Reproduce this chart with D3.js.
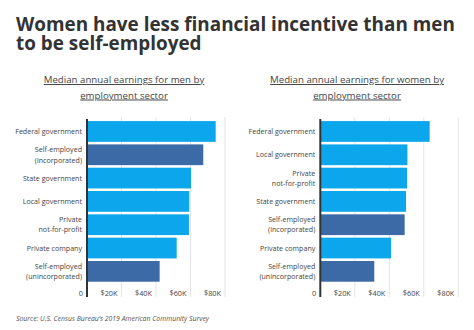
<!DOCTYPE html>
<html>
<head>
<meta charset="utf-8">
<script src="https://cdn.jsdelivr.net/npm/d3@7"></script>
<style>
  body { margin: 0; background: #fff; }
  svg { display: block; }
</style>
</head>
<body>
<svg width="474" height="330"></svg>
<script>
var svg = d3.select("svg"),
    width = 474,
    height = 330;

// the data
var menSectors = ["Federal government", "Self-employed\n(incorporated)", "State government",
                  "Local government", "Private\nnot-for-profit", "Private company",
                  "Self-employed\n(unincorporated)"];
var menValues = [74600, 67400, 60300, 59300, 59100, 52000, 42100];
var womenSectors = ["Federal government", "Local government", "Private\nnot-for-profit",
                    "State government", "Self-employed\n(incorporated)", "Private company",
                    "Self-employed\n(unincorporated)"];
var womenValues = [63400, 50500, 50300, 49700, 48900, 41000, 31300];
var tickValues = [0, 20000, 40000, 60000, 80000];
var tickLabels = ["0", "$20K", "$40K", "$60K", "$80K"];

var lightBlue = "#0ba6ec",
    darkBlue = "#3b6aa6",
    textColor = "#444";

//////////// TITLES ////////////
var titleLines = ["Women have less financial incentive than men", "to be self-employed"];
svg.append("g")
  .selectAll("text")
  .data(titleLines)
  .enter().append("text")
    .attr("x", 16)
    .attr("y", function(d, i) { return 30.7 + i * 19.4; })
    .attr("fill", "#333")
    .style("font-family", "'Open Sans', sans-serif")
    .style("font-weight", "bold")
    .style("font-size", "18.9px")
    .text(function(d) { return d; });

svg.append("text")
    .attr("x", 16)
    .attr("y", 321)
    .attr("fill", "#555")
    .style("font-family", "'Open Sans', sans-serif")
    .style("font-style", "italic")
    .style("font-size", "6.9px")
    .text("Source:  U.S. Census Bureau\u2019s 2019 American Community Survey");

//////////// PANELS ////////////
function drawPanel(opts) {
  var g = svg.append("g");

  var x = d3.scaleLinear()
      .domain([0, 80000])
      .range([opts.x0, opts.x0 + 138]);

  var y = d3.scaleBand()
      .domain(opts.sectors)
      .range([119.8, 283])
      .paddingInner(0.11)
      .paddingOuter(0.055);

  // subtitle
  var sub = g.append("text")
      .attr("x", opts.cx)
      .attr("y", 83)
      .attr("text-anchor", "middle")
      .attr("fill", textColor)
      .attr("text-decoration", "underline")
      .style("font-family", "'Open Sans', sans-serif")
      .style("font-size", "9.7px");
  opts.subtitle.forEach(function(line, i) {
    sub.append("tspan").attr("x", opts.cx).attr("dy", i ? 15.5 : 0).text(line);
  });

  // gridlines
  g.append("g")
    .selectAll("line")
    .data(tickValues.slice(1))
    .enter().append("line")
      .attr("x1", function(d) { return x(d); })
      .attr("x2", function(d) { return x(d); })
      .attr("y1", 117)
      .attr("y2", 297)
      .attr("stroke", "#e4e4e4")
      .attr("stroke-width", 1);

  // bars
  g.append("g")
    .selectAll("rect")
    .data(opts.values)
    .enter().append("rect")
      .attr("x", x(0))
      .attr("y", function(d, i) { return y(opts.sectors[i]); })
      .attr("width", function(d) { return x(d) - x(0); })
      .attr("height", y.bandwidth())
      .attr("fill", function(d, i) {
        return opts.sectors[i].indexOf("Self-employed") === 0 ? darkBlue : lightBlue;
      });

  // category labels
  var labels = g.append("g")
    .selectAll("text")
    .data(opts.sectors)
    .enter().append("text")
      .attr("text-anchor", "end")
      .attr("fill", textColor)
      .style("font-family", "'Open Sans', sans-serif")
      .style("font-size", "7.1px");
  labels.each(function(d) {
    var lines = d.split("\n");
    var cy = y(d) + y.bandwidth() / 2;
    var t = d3.select(this);
    lines.forEach(function(line, i) {
      t.append("tspan")
        .attr("x", x(0) - 5)
        .attr("y", cy + 2.6 + (i - (lines.length - 1) / 2) * 10.3)
        .text(line);
    });
  });

  // tick labels
  g.append("g")
    .selectAll("text")
    .data(tickValues)
    .enter().append("text")
      .attr("x", function(d) { return x(d) - 4; })
      .attr("y", 296)
      .attr("text-anchor", "end")
      .attr("fill", textColor)
      .style("font-family", "'Open Sans', sans-serif")
      .style("font-size", "7.3px")
      .text(function(d, i) { return tickLabels[i]; });

  // axis line
  g.append("line")
    .attr("x1", x(0))
    .attr("x2", x(0))
    .attr("y1", 119)
    .attr("y2", 297)
    .attr("stroke", "#333")
    .attr("stroke-width", 2);
}

drawPanel({
  x0: 87,
  cx: 124,
  subtitle: ["Median annual earnings for men by", "employment sector"],
  sectors: menSectors,
  values: menValues
});

drawPanel({
  x0: 320.3,
  cx: 357,
  subtitle: ["Median annual earnings for women by", "employment sector"],
  sectors: womenSectors,
  values: womenValues
});
</script>
</body>
</html>
